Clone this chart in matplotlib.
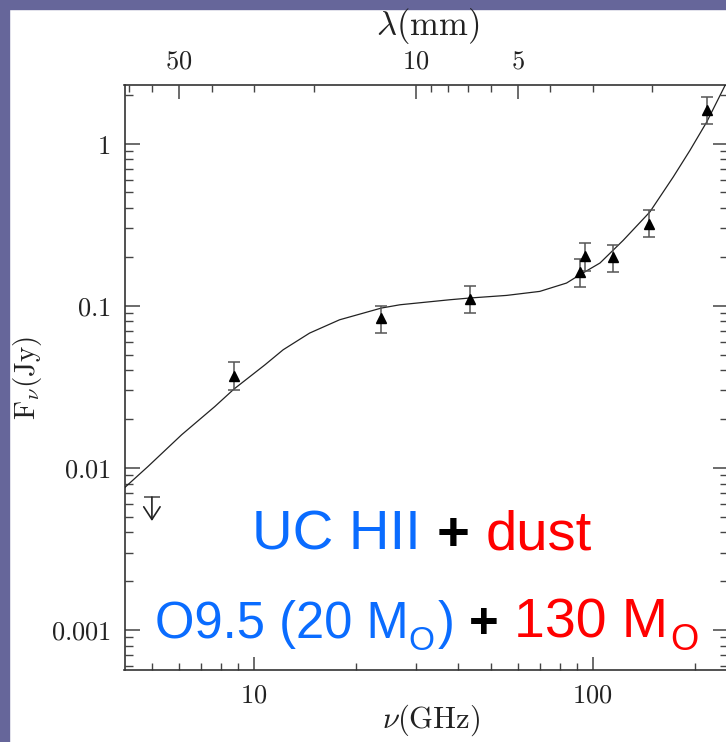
import matplotlib
matplotlib.use("Agg")
import matplotlib.pyplot as plt
from matplotlib.patches import Rectangle
from matplotlib.ticker import NullFormatter, LogLocator, FixedLocator
import numpy as np

plt.rcParams['mathtext.fontset'] = 'cm'

# ---------------- data ----------------
# measured points (GHz, Jy)
nu_obs = [8.73, 23.7, 43.5, 91.6, 94.8, 115.0, 146.6, 217.8]
flux_obs = [0.037, 0.0837, 0.110, 0.161, 0.2015, 0.200, 0.321, 1.606]
flux_hi = [0.0447, 0.100, 0.133, 0.194, 0.244, 0.238, 0.392, 1.94]
flux_lo = [0.030, 0.068, 0.090, 0.130, 0.163, 0.161, 0.265, 1.315]

# upper limit
nu_ul = [5.0]
flux_ul = [0.0066]
flux_ul_tip = [0.0047]

# model curve (UC HII + dust)
curve_nu = [4.14, 4.87, 6.12, 7.67, 8.73, 10.78, 12.2, 14.6, 17.9, 23.8, 27.0,
            37.9, 43.4, 55.7, 69.8, 83.7, 91.7, 105.1, 123.0, 147.5, 172.9,
            193.7, 217.1, 247.5, 255.0]
curve_flux = [0.0075, 0.0102, 0.0160, 0.0239, 0.0306, 0.0432, 0.0535, 0.0678,
              0.0819, 0.0968, 0.1014, 0.1089, 0.1116, 0.1158, 0.1226, 0.138,
              0.1553, 0.1835, 0.253, 0.379, 0.623, 0.909, 1.361, 2.35, 2.6]

# axis ticks
x_major = [10, 100]
x_major_labels = [r'$10$', r'$100$']
y_major = [0.001, 0.01, 0.1, 1]
y_major_labels = [r'$0.001$', r'$0.01$', r'$0.1$', r'$1$']
lam_major = [50, 10, 5]          # mm
lam_minor = [70, 60, 40, 30, 20, 9, 8, 7, 6, 4, 3, 2]
C_MM_GHZ = 300.0

xlim = (4.15, 250.0)
ylim = (5.66e-4, 2.31)

# ---------------- figure ----------------
W, H = 726, 742
fig = plt.figure(figsize=(W / 100, H / 100), dpi=100)
fig.patch.set_facecolor('white')
frame_c = '#66669a'
fig.patches.append(Rectangle((0, 0), 9 / W, 1, transform=fig.transFigure,
                             color=frame_c, zorder=0))
fig.patches.append(Rectangle((0, 1 - 9 / H), 1, 9 / H, transform=fig.transFigure,
                             color=frame_c, zorder=0))

def px2fig(x, y):
    return x / W, 1 - y / H

l, r_, t, b = 124.5, 727.5, 84.7, 670.0
ax = fig.add_axes([l / W, 1 - b / H, (r_ - l) / W, (b - t) / H])
ax.set_xscale('log')
ax.set_yscale('log')
ax.set_xlim(*xlim)
ax.set_ylim(*ylim)

spine_c = '#333333'
tick_c = '#444444'
for s in ax.spines.values():
    s.set_color(spine_c)
    s.set_linewidth(1.2)

ax.set_xticks(x_major, labels=x_major_labels)
ax.xaxis.set_minor_locator(LogLocator(base=10, subs=np.arange(2, 10)))
ax.xaxis.set_minor_formatter(NullFormatter())
ax.set_yticks(y_major, labels=y_major_labels)
ax.yaxis.set_minor_locator(LogLocator(base=10, subs=np.arange(2, 10)))
ax.yaxis.set_minor_formatter(NullFormatter())

lab_size = 19
ax.tick_params(axis='both', which='major', direction='in', length=10.5,
               width=1.1, color=tick_c, labelsize=lab_size, labelcolor='#222222')
ax.tick_params(axis='both', which='minor', direction='in', length=5.5,
               width=1.0, color=tick_c)
ax.tick_params(axis='x', which='both', top=False, bottom=True, pad=9)
ax.tick_params(axis='y', which='both', left=True, right=True, pad=10)
ax.tick_params(axis='x', which='major', length=9.5)
ax.tick_params(axis='x', which='minor', length=5)

# top wavelength axis
axt = ax.twiny()
axt.set_xscale('log')
axt.set_xlim(*xlim)
axt.xaxis.set_major_locator(FixedLocator([C_MM_GHZ / v for v in lam_major]))
axt.set_xticklabels([r'$%d$' % v for v in lam_major])
axt.xaxis.set_minor_locator(FixedLocator([C_MM_GHZ / v for v in lam_minor]))
axt.xaxis.set_minor_formatter(NullFormatter())
axt.tick_params(axis='x', which='major', direction='in', length=10, width=1.1,
                color=tick_c, labelsize=lab_size, labelcolor='#222222', pad=7)
axt.tick_params(axis='x', which='minor', direction='in', length=5, width=1.0,
                color=tick_c)
for s in axt.spines.values():
    s.set_visible(False)

# model curve
ax.plot(curve_nu, curve_flux, color='#222222', lw=0.9, zorder=3)

# data with error bars
yerr = [np.array(flux_obs) - np.array(flux_lo), np.array(flux_hi) - np.array(flux_obs)]
ax.errorbar(nu_obs, flux_obs, yerr=yerr, fmt='^', color='black', ms=7.5,
            ecolor='#555555', elinewidth=1.1, capsize=4.5, capthick=1.1, zorder=4)

# upper limit: cap + arrow
ax.plot(nu_ul, flux_ul, marker='_', ms=12, mew=1.1, color='#444444', ls='none', zorder=4)
for xv, yv, yt in zip(nu_ul, flux_ul, flux_ul_tip):
    ax.annotate('', xy=(xv, yt), xytext=(xv, yv),
                arrowprops=dict(arrowstyle='->,head_length=0.65,head_width=0.42',
                                color='#222222', lw=1.2, shrinkA=0, shrinkB=0,
                                mutation_scale=14), zorder=4)

# axis labels
fig.text(*px2fig(428, 26), r'$\lambda\mathrm{(mm)}$', fontsize=25, ha='center',
         va='center', color='#222222')
fig.text(*px2fig(431, 720), r'$\nu\mathrm{(GHz)}$', fontsize=22, ha='center',
         va='center', color='#222222')
fig.text(*px2fig(27, 378), r'$\mathrm{F}_{\nu}\mathrm{(Jy)}$', fontsize=21,
         ha='center', va='center', rotation=90, color='#222222')

# annotation text, chained horizontally
blue = '#0a6cff'
red = '#ff0000'
sans = 'Liberation Sans'

def chain_line(pieces, center_x, baseline_y):
    """pieces: (text, color, size, weight, gap_before_px, dy_px)"""
    texts = []
    for s, c, sz, wt, gap, dy in pieces:
        tt = fig.text(0, 0, s, color=c, fontsize=sz, family=sans, ha='left',
                      va='baseline', fontweight=wt)
        texts.append(tt)
    fig.canvas.draw()
    rend = fig.canvas.get_renderer()
    widths = [tt.get_window_extent(rend).width for tt in texts]
    total = sum(widths) + sum(p[4] for p in pieces)
    x = center_x - total / 2
    for tt, wdt, p in zip(texts, widths, pieces):
        x += p[4]
        tt.set_position(px2fig(x, baseline_y + p[5]))
        x += wdt

chain_line([('UC HII', blue, 40.5, 'normal', 0, 0),
            ('+', 'black', 40.5, 'bold', 16, 0),
            ('dust', red, 40.5, 'normal', 16, 0)], 421.5, 550)

chain_line([('O9.5 (20 M', blue, 36.5, 'normal', 0, 0),
            ('O', blue, 24, 'normal', 0, 12),
            (')', blue, 36.5, 'normal', 3, 0),
            ('+', 'black', 36.5, 'bold', 15, 0),
            ('130 M', red, 40, 'normal', 15, 0),
            ('O', red, 26, 'normal', 2, 12)], 426.5, 638)

fig.savefig('out.png', dpi=100, facecolor='white')
